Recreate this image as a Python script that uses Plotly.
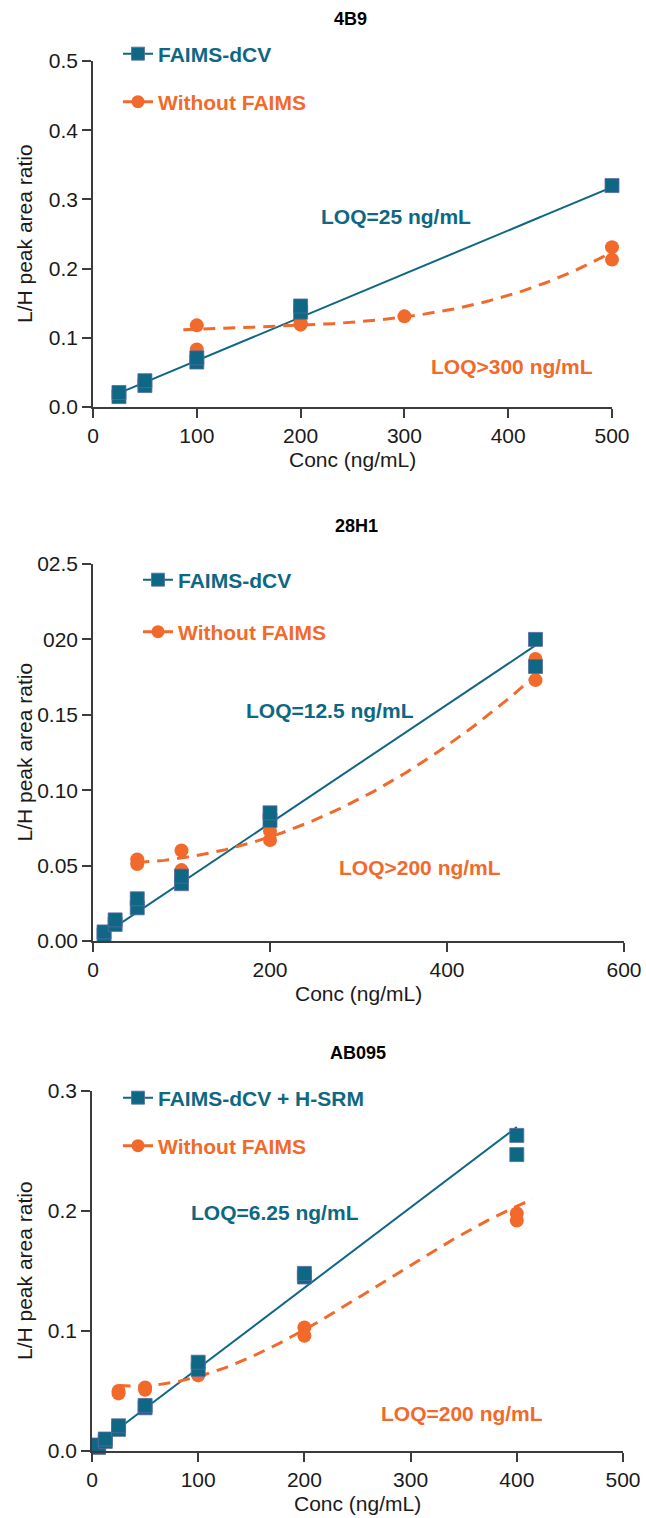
import numpy as np
import plotly.graph_objects as go

W, H = 646, 1518
TEAL = "#0e6783"
ORANGE = "#f26a2b"
AXIS = "#3c3c3c"
FONT = "Liberation Sans, Arial, Helvetica, sans-serif"

#4B9 panel
b9_faims_conc = [25, 25, 50, 50, 100, 100, 200, 200, 500]
b9_faims_ratio = [0.015, 0.021, 0.031, 0.038, 0.065, 0.071, 0.137, 0.146, 0.320]
b9_nofaims_conc = [100, 100, 200, 200, 300, 500, 500]
b9_nofaims_ratio = [0.118, 0.083, 0.119, 0.121, 0.131, 0.231, 0.213]
b9_faims_fit = [0.000627, 0.0043]
b9_faims_fit_span = [25, 500]
b9_nofaims_fit = [2.104e-9, -9.374e-7, 1.8894e-4, 0.100876]
b9_nofaims_fit_span = [87, 500]

#28H1 panel
h1_faims_conc = [12.5, 12.5, 25, 25, 50, 50, 100, 100, 200, 200, 500, 500]
h1_faims_ratio = [0.004, 0.006, 0.011, 0.014, 0.022, 0.028, 0.038, 0.043, 0.080, 0.085, 0.200, 0.182]
h1_nofaims_conc = [50, 50, 100, 100, 200, 200, 500, 500]
h1_nofaims_ratio = [0.051, 0.054, 0.060, 0.047, 0.073, 0.067, 0.187, 0.173]
h1_faims_fit = [0.000393, -0.0005]
h1_faims_fit_span = [12.5, 500]
h1_nofaims_fit = [5.407e-7, -2.18e-5, 0.05174]
h1_nofaims_fit_span = [50, 500]
h1_ytick_vals = [0, 0.05, 0.10, 0.15, 0.20, 0.25]
h1_ytick_text = ["0.00", "0.05", "0.10", "0.15", "020", "02.5"]

#AB095 panel
ab_faims_conc = [6.25, 6.25, 12.5, 12.5, 25, 25, 50, 50, 100, 100, 200, 200, 400, 400]
ab_faims_ratio = [0.003, 0.005, 0.008, 0.010, 0.018, 0.021, 0.036, 0.038, 0.068, 0.074, 0.145, 0.148, 0.263, 0.247]
ab_nofaims_conc = [25, 25, 50, 50, 100, 100, 200, 200, 400, 400]
ab_nofaims_ratio = [0.048, 0.050, 0.051, 0.053, 0.063, 0.064, 0.103, 0.096, 0.198, 0.192]
ab_faims_fit = [0.00067, 0.002]
ab_faims_fit_span = [25, 400]
ab_nofaims_fit = [-3.3078e-9, 2.73214e-6, -1.98103e-4, 0.05779665]
ab_nofaims_fit_span = [25, 415]


def px(x):
    return x / W


def py(y):
    return 1 - y / H


panels = [
    dict(title="4B9", faims=(b9_faims_conc, b9_faims_ratio, b9_faims_fit, b9_faims_fit_span),
         nofaims=(b9_nofaims_conc, b9_nofaims_ratio, b9_nofaims_fit, b9_nofaims_fit_span),
         faims_name="FAIMS-dCV", loq=("LOQ=25 ng/mL", "LOQ>300 ng/mL"),
         box=(93, 612, 61, 407), title_xy=(350, 19), xrange=500, xdtick=100, yrange=0.5,
         yticks=None, loq_xy=((396, 217), (512, 367)), leg=(115, 54, 102)),
    dict(title="28H1", faims=(h1_faims_conc, h1_faims_ratio, h1_faims_fit, h1_faims_fit_span),
         nofaims=(h1_nofaims_conc, h1_nofaims_ratio, h1_nofaims_fit, h1_nofaims_fit_span),
         faims_name="FAIMS-dCV", loq=("LOQ=12.5 ng/mL", "LOQ>200 ng/mL"),
         box=(93, 624, 564, 941), title_xy=(356, 526), xrange=600, xdtick=200, yrange=0.25,
         yticks=(h1_ytick_vals, h1_ytick_text), loq_xy=((330, 711), (420, 867)), leg=(135, 580, 632)),
    dict(title="AB095", faims=(ab_faims_conc, ab_faims_ratio, ab_faims_fit, ab_faims_fit_span),
         nofaims=(ab_nofaims_conc, ab_nofaims_ratio, ab_nofaims_fit, ab_nofaims_fit_span),
         faims_name="FAIMS-dCV + H-SRM", loq=("LOQ=6.25 ng/mL", "LOQ=200 ng/mL"),
         box=(92, 623, 1091, 1451), title_xy=(358, 1053), xrange=500, xdtick=100, yrange=0.3,
         yticks=None, loq_xy=((275, 1212), (462, 1413)), leg=(115, 1098, 1146)),
]

fig = go.Figure()
annotations = []


def label(text, x, y, size=21, color="#1a1a1a", angle=0):
    #text placed in pixel coordinates of the page
    return dict(text=text, x=px(x), y=py(y), xref="paper", yref="paper", xanchor="center",
                yanchor="middle", textangle=angle, showarrow=False,
                font=dict(family=FONT, size=size, color=color))


for i, p in enumerate(panels, start=1):
    xa = "x" if i == 1 else f"x{i}"
    ya = "y" if i == 1 else f"y{i}"
    x0, x1, top, bottom = p["box"]

    teal_line = dict(color=TEAL, width=2)
    orange_line = dict(color=ORANGE, width=3, dash="12px,8px")
    sq = dict(symbol="square", size=14, color=TEAL, line=dict(color="#5a6aa6", width=0.8))
    dot = dict(symbol="circle", size=14, color=ORANGE)

    #fit curves
    for (conc, ratio, fit, span), ln in [(p["faims"], teal_line), (p["nofaims"], orange_line)]:
        xs = np.linspace(span[0], span[1], 150)
        fig.add_trace(go.Scatter(x=xs, y=np.polyval(fit, xs), mode="lines", line=ln,
                                 showlegend=False, hoverinfo="skip", cliponaxis=False,
                                 xaxis=xa, yaxis=ya))

    #measured points
    conc, ratio, _, _ = p["nofaims"]
    fig.add_trace(go.Scatter(x=conc, y=ratio, mode="markers", marker=dot, showlegend=False,
                             cliponaxis=False, xaxis=xa, yaxis=ya))
    conc, ratio, _, _ = p["faims"]
    fig.add_trace(go.Scatter(x=conc, y=ratio, mode="markers", marker=sq, showlegend=False,
                             cliponaxis=False, xaxis=xa, yaxis=ya))

    #legend entries, one legend per entry so each gets its own colour
    lx, ly1, ly2 = p["leg"]
    for k, (name, ln, mk, col, ly) in enumerate([
        (p["faims_name"], teal_line, dict(sq, size=13), TEAL, ly1),
        ("Without FAIMS", orange_line, dict(dot, size=13), ORANGE, ly2),
    ]):
        n = 2 * (i - 1) + k + 1
        lid = "legend" if n == 1 else f"legend{n}"
        fig.add_trace(go.Scatter(x=[None], y=[None], mode="lines+markers", name=f"<b>{name}</b>",
                                 line=ln, marker=mk, legend=lid, xaxis=xa, yaxis=ya))
        fig.layout[lid] = dict(x=px(lx + 3), y=py(ly), xanchor="left", yanchor="middle",
                               bgcolor="rgba(0,0,0,0)", borderwidth=0,
                               font=dict(family=FONT, size=21, color=col))

    axis_common = dict(showline=True, linecolor=AXIS, linewidth=1.5, ticks="outside", ticklen=9,
                       tickwidth=1.5, tickcolor=AXIS, showgrid=False, zeroline=False, automargin=False,
                       tickfont=dict(family=FONT, size=21, color="#1a1a1a"), fixedrange=True)
    xaxis = dict(axis_common, domain=[px(x0), px(x1)], range=[0, p["xrange"]], dtick=p["xdtick"],
                 tick0=0, anchor=ya)
    yaxis = dict(axis_common, domain=[py(bottom), py(top)], range=[0, p["yrange"]], anchor=xa)
    if p["yticks"] is not None:
        yaxis.update(tickmode="array", tickvals=p["yticks"][0], ticktext=p["yticks"][1])
    else:
        yaxis.update(dtick=0.1, tick0=0, tickformat=".1f")
    fig.layout["xaxis" if i == 1 else f"xaxis{i}"] = xaxis
    fig.layout["yaxis" if i == 1 else f"yaxis{i}"] = yaxis

    #titles and labels
    tx, ty = p["title_xy"]
    annotations.append(label("<b>" + p["title"] + "</b>", tx, ty, size=18, color="black"))
    annotations.append(label("Conc (ng/mL)", (x0 + x1) / 2, bottom + 52))
    annotations.append(label("L/H peak area ratio", 24, (top + bottom) / 2, angle=-90))
    for txt, (ax_, ay_), col in zip(p["loq"], p["loq_xy"], [TEAL, ORANGE]):
        annotations.append(label(f"<b>{txt}</b>", ax_, ay_, color=col))

fig.update_layout(
    width=W,
    height=H,
    margin=dict(l=0, r=0, t=0, b=0, autoexpand=False),
    paper_bgcolor="white",
    plot_bgcolor="white",
    annotations=annotations,
    font=dict(family=FONT),
)

fig.write_html("out.html", config={"displayModeBar": False},
               post_script="document.body.style.margin='0';")
